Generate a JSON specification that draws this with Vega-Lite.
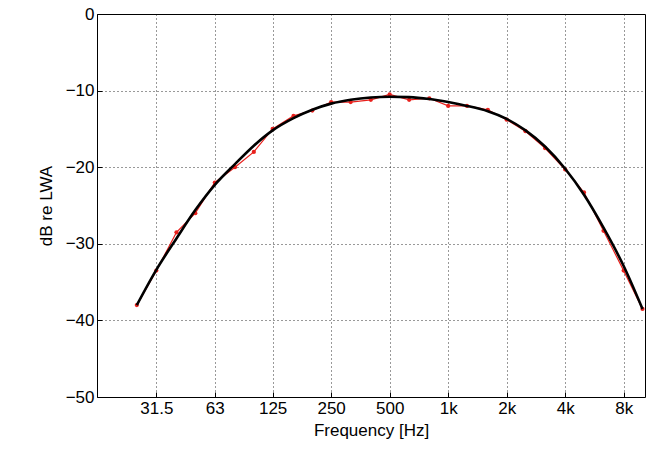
{
  "$schema": "https://vega.github.io/schema/vega-lite/v6.json",
  "autosize": "none",
  "width": 548,
  "height": 383,
  "padding": {"left": 97, "top": 14, "right": 15, "bottom": 68},
  "background": "white",
  "datasets": {
    "meas": [
      {"f": 25, "db": -38}, {"f": 31.5, "db": -33.5}, {"f": 40, "db": -28.5},
      {"f": 50, "db": -26}, {"f": 63, "db": -22}, {"f": 80, "db": -20},
      {"f": 100, "db": -18}, {"f": 125, "db": -15}, {"f": 160, "db": -13.3},
      {"f": 200, "db": -12.6}, {"f": 250, "db": -11.5}, {"f": 315, "db": -11.5},
      {"f": 400, "db": -11.2}, {"f": 500, "db": -10.5}, {"f": 630, "db": -11.2},
      {"f": 800, "db": -11}, {"f": 1000, "db": -12}, {"f": 1250, "db": -12},
      {"f": 1600, "db": -12.5}, {"f": 2000, "db": -13.8}, {"f": 2500, "db": -15.3},
      {"f": 3150, "db": -17.5}, {"f": 4000, "db": -20.3}, {"f": 5000, "db": -23.3},
      {"f": 6300, "db": -28.3}, {"f": 8000, "db": -33.5}, {"f": 10000, "db": -38.5}
    ],
    "fit": [
      {"f": 25, "db": -38}, {"f": 31.5, "db": -33.4}, {"f": 40, "db": -29.3},
      {"f": 50, "db": -25.6}, {"f": 63, "db": -22.3}, {"f": 80, "db": -19.6},
      {"f": 100, "db": -17.2}, {"f": 125, "db": -15.2}, {"f": 160, "db": -13.6},
      {"f": 200, "db": -12.5}, {"f": 250, "db": -11.7}, {"f": 315, "db": -11.2},
      {"f": 400, "db": -10.9}, {"f": 500, "db": -10.8}, {"f": 630, "db": -10.85},
      {"f": 800, "db": -11.1}, {"f": 1000, "db": -11.5}, {"f": 1250, "db": -12},
      {"f": 1600, "db": -12.7}, {"f": 2000, "db": -13.7}, {"f": 2500, "db": -15.2},
      {"f": 3150, "db": -17.3}, {"f": 4000, "db": -20.2}, {"f": 5000, "db": -23.6},
      {"f": 6300, "db": -27.9}, {"f": 8000, "db": -32.9}, {"f": 10000, "db": -38.5}
    ]
  },
  "encoding": {
    "x": {
      "field": "f", "type": "quantitative",
      "scale": {"type": "log", "domain": [15.6, 10300], "nice": false},
      "axis": {
        "title": "Frequency [Hz]",
        "values": [31.5, 63, 125, 250, 500, 1000, 2000, 4000, 8000],
        "labelExpr": "datum.value >= 1000 ? (datum.value / 1000) + 'k' : datum.value"
      }
    },
    "y": {
      "field": "db", "type": "quantitative",
      "scale": {"domain": [-50, 0], "nice": false},
      "axis": {"title": "dB re LWA", "values": [-50, -40, -30, -20, -10, 0]}
    }
  },
  "layer": [
    {
      "data": {"name": "meas"},
      "mark": {"type": "line", "color": "#e8201c", "strokeWidth": 1.2, "point": {"color": "#e8201c", "size": 18, "filled": true}}
    },
    {
      "data": {"name": "fit"},
      "mark": {"type": "line", "color": "black", "strokeWidth": 2.6, "interpolate": "monotone"}
    }
  ],
  "config": {
    "view": {"stroke": "black", "strokeWidth": 1},
    "font": "Liberation Sans",
    "axis": {
      "grid": true, "gridColor": "black", "gridDash": [1, 3], "gridOpacity": 0.8,
      "domain": false, "tickColor": "black", "tickSize": -5, "ticks": true,
      "labelFontSize": 17, "labelColor": "black", "titleFontSize": 17,
      "titleColor": "black", "titleFontWeight": "normal", "labelPadding": 8
    },
    "axisX": {"titlePadding": 6},
    "axisY": {"titlePadding": 10}
  }
}
